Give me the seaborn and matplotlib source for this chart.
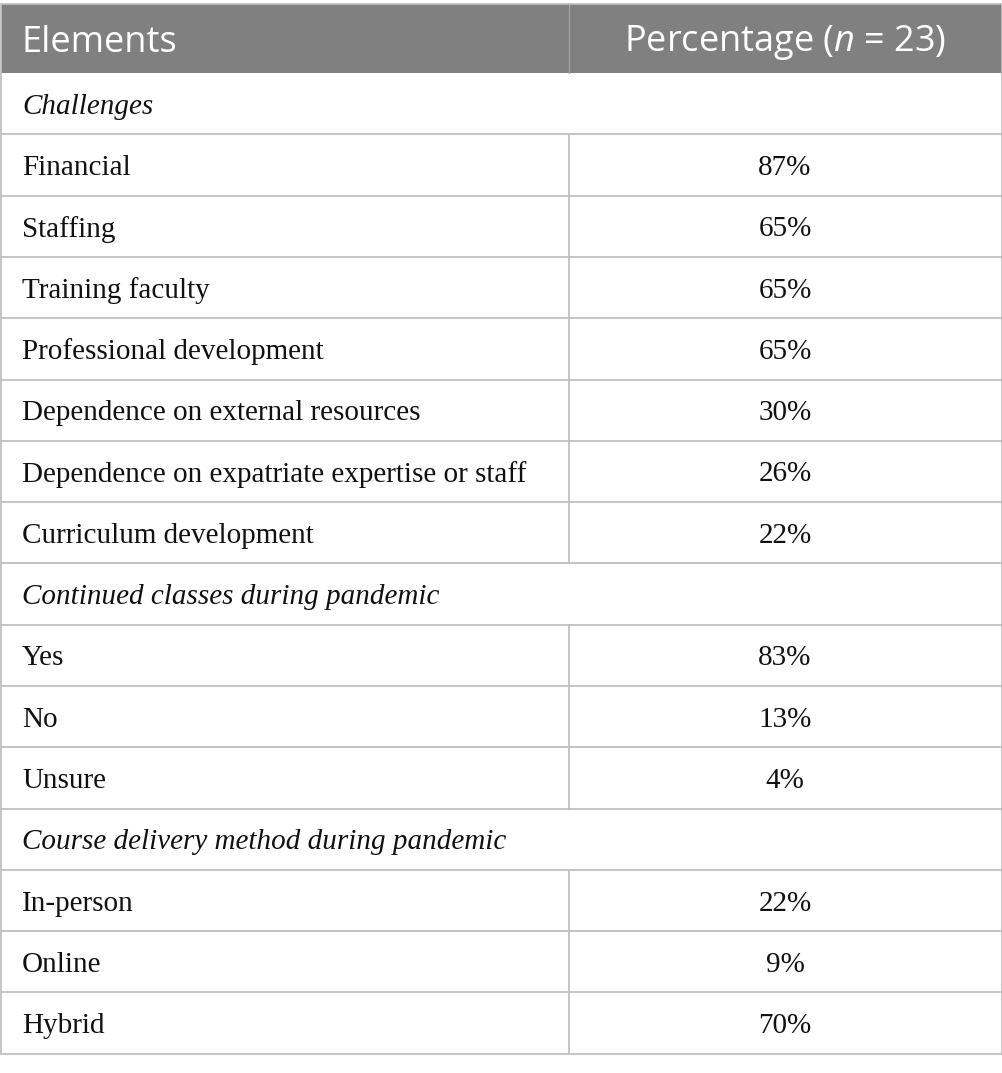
import seaborn as sns
import matplotlib.pyplot as plt

# table content
header = ["Elements", "Percentage ($\\it{n}$ = 23)"]
sections = ["Challenges", "Continued classes during pandemic",
            "Course delivery method during pandemic"]
challenges = ["Financial", "Staffing", "Training faculty", "Professional development",
              "Dependence on external resources",
              "Dependence on expatriate expertise or staff", "Curriculum development"]
challenges_pct = [87, 65, 65, 65, 30, 26, 22]
continued = ["Yes", "No", "Unsure"]
continued_pct = [83, 13, 4]
delivery = ["In-person", "Online", "Hybrid"]
delivery_pct = [22, 9, 70]

sns.set_theme(style="white")
plt.rcParams['font.family'] = ['Liberation Serif', 'DejaVu Serif']
plt.rcParams['mathtext.fontset'] = 'custom'
plt.rcParams['mathtext.it'] = 'Open Sans:italic'

W, H = 1003, 1073
fig = plt.figure(figsize=(W / 100, H / 100), dpi=100)
ax = fig.add_axes([0, 0, 1, 1])
ax.set_xlim(0, W)
ax.set_ylim(H, 0)
ax.axis("off")

left, right, split = 1, 1002, 569
top, head_h, row_h = 4, 69, 61.3
grid = "#c0c0c0"

rows = []
for name, labels, vals in zip(sections, [challenges, continued, delivery],
                              [challenges_pct, continued_pct, delivery_pct]):
    rows.append((name, None))
    for lab, v in zip(labels, vals):
        rows.append((lab, v))

# header
ax.add_patch(plt.Rectangle((left, top), right - left, head_h, color="#808080", lw=0))
ax.plot([split, split], [top, top + head_h], color="#a0a0a0", lw=1)
ax.text(22, top + head_h / 2 + 4, header[0], color="white", fontsize=26,
        family="Open Sans", va="center", ha="left")
ax.text(785, top + head_h / 2 + 4, header[1], color="white", fontsize=26,
        family="Open Sans", va="center", ha="center")

y0 = top + head_h
fs = 21
for i, (lab, v) in enumerate(rows):
    ya = y0 + i * row_h
    yb = ya + row_h
    yc = (ya + yb) / 2
    ax.plot([left, right], [yb, yb], color=grid, lw=1.3)
    if v is None:
        ax.text(22, yc + 3, lab, fontsize=fs, style="italic", va="center", ha="left",
                color="#111111")
    else:
        ax.plot([split, split], [ya, yb], color=grid, lw=1.3)
        ax.text(22, yc + 3, lab, fontsize=fs, va="center", ha="left", color="#111111")
        ax.text(785, yc + 3, f"{v}%", fontsize=fs, va="center", ha="center",
                color="#111111")

bottom = y0 + len(rows) * row_h
ax.plot([left, left], [top, bottom], color=grid, lw=1.3)
ax.plot([right, right], [top, bottom], color=grid, lw=1.3)
ax.plot([left, right], [top, top], color=grid, lw=1.3)

fig.savefig("out.png", dpi=100)
